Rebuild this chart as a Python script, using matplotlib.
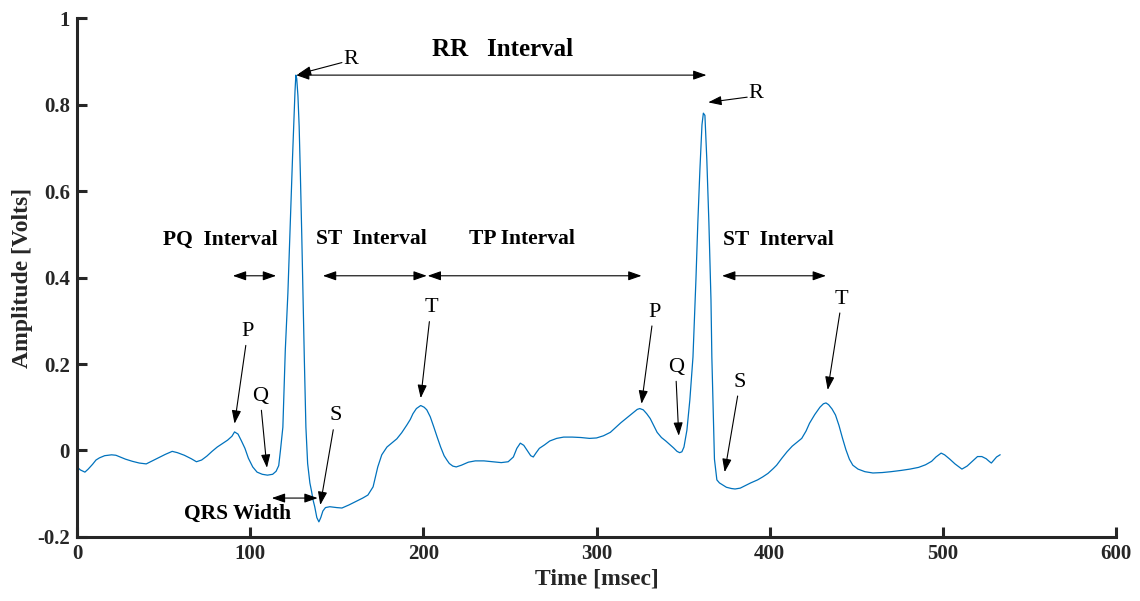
import matplotlib
matplotlib.use("Agg")
import matplotlib.pyplot as plt

plt.rcParams['font.family'] = ['Liberation Serif', 'DejaVu Serif']

# ECG trace (time in msec, amplitude in volts)
time_ms = [0, 2, 4.6, 6.5, 9, 11, 13, 16, 20, 22.5, 25, 28, 32, 36, 40, 43, 47,
           51, 55, 58, 62, 66, 69, 72, 75, 78, 81, 84, 87, 89.5, 91, 93, 95, 97,
           99, 101.5, 104, 107, 110, 113, 115, 116.5,
           117.5, 118.9, 119.6, 120.3, 121.1, 121.8, 122.7, 123.6, 124.5, 125.3,
           125.9, 126.4, 126.9, 127.6, 128.3, 129.0, 129.8, 130.5, 131.3, 132.2,
           133.2, 134.5, 135.5, 136.3, 137.3, 138.5, 139.7, 140.8, 142.0, 143.5,
           146, 150, 153, 157, 161, 165, 168, 171, 173.7, 176, 179, 182, 184.7,
           187.5, 190.5, 192.5, 194, 196, 198.5, 200.5, 202, 204, 206, 208, 210,
           212, 213.6, 215, 217, 219, 222, 226, 230, 235, 240, 245, 249, 252, 254,
           256, 258, 260, 262, 263.5, 265, 267, 270, 273, 277, 281, 286, 291, 296,
           300, 304, 308, 311, 314, 318, 321, 323.5, 325, 327, 329, 331, 333, 335,
           337.5, 340, 342, 344.5, 346.5, 348, 349.3,
           350.5, 352.2, 353.9, 355.7, 357.4, 358.5, 359.7, 360.9, 361.7, 362.6,
           363.7, 364.9, 366.1, 366.6, 367.5, 368.1, 369.5, 371, 373, 375, 378,
           380, 383, 386, 389, 393, 396, 399, 402, 404, 407, 410, 413, 416, 418.5,
           421, 423, 426, 429, 431, 432.5, 434, 436, 438, 440, 442, 444, 446, 448,
           451, 455, 459.6, 465, 470, 476, 481, 486, 490, 493.5, 496, 499, 501,
           504, 507, 511, 514, 517, 520, 522.5, 525, 527, 528, 529.5, 531, 533]
amp_v = [-0.038, -0.045, -0.050, -0.043, -0.032, -0.022, -0.017, -0.012, -0.010,
         -0.011, -0.015, -0.020, -0.025, -0.029, -0.031, -0.025, -0.017, -0.009,
         -0.002, -0.005, -0.011, -0.019, -0.026, -0.022, -0.013, -0.002, 0.008,
         0.016, 0.024, 0.033, 0.043, 0.038, 0.022, 0.005, -0.018, -0.038, -0.050,
         -0.055, -0.057, -0.055, -0.048, -0.035,
         0.000, 0.054, 0.140, 0.232, 0.300, 0.364, 0.470, 0.579, 0.680, 0.764,
         0.830, 0.868, 0.860, 0.820, 0.750, 0.640, 0.500, 0.364, 0.210, 0.054,
         -0.030, -0.075, -0.095, -0.114, -0.130, -0.155, -0.165, -0.155, -0.140,
         -0.132, -0.130, -0.132, -0.133, -0.126, -0.118, -0.110, -0.103, -0.084,
         -0.038, -0.010, 0.008, 0.018, 0.027, 0.041, 0.059, 0.072, 0.085, 0.097,
         0.104, 0.100, 0.094, 0.078, 0.055, 0.031, 0.008, -0.012, -0.022, -0.030,
         -0.036, -0.038, -0.034, -0.027, -0.024, -0.024, -0.026, -0.028, -0.026,
         -0.015, 0.005, 0.017, 0.012, 0.000, -0.012, -0.015, -0.006, 0.005, 0.013,
         0.022, 0.028, 0.031, 0.031, 0.030, 0.028, 0.029, 0.034, 0.042, 0.053,
         0.064, 0.077, 0.087, 0.095, 0.097, 0.094, 0.085, 0.074, 0.058, 0.042,
         0.030, 0.022, 0.015, 0.006, -0.002, -0.005, -0.003,
         0.008, 0.047, 0.117, 0.216, 0.394, 0.526, 0.649, 0.753, 0.780, 0.775,
         0.672, 0.526, 0.348, 0.216, 0.070, -0.020, -0.068, -0.075, -0.080,
         -0.085, -0.088, -0.089, -0.087, -0.081, -0.075, -0.068, -0.061, -0.053,
         -0.042, -0.034, -0.018, -0.003, 0.010, 0.020, 0.028, 0.045, 0.063, 0.083,
         0.100, 0.108, 0.110, 0.106, 0.096, 0.082, 0.058, 0.029, 0.002, -0.020,
         -0.034, -0.043, -0.049, -0.052, -0.051, -0.049, -0.046, -0.043, -0.039,
         -0.033, -0.025, -0.015, -0.006, -0.010, -0.020, -0.031, -0.043, -0.036,
         -0.025, -0.014, -0.014, -0.019, -0.026, -0.029, -0.022, -0.015, -0.010]

x_ticks = [0, 100, 200, 300, 400, 500, 600]
y_ticks = [-0.2, 0, 0.2, 0.4, 0.6, 0.8, 1]
y_tick_labels = ['-0.2', '0', '0.2', '0.4', '0.6', '0.8', '1']

# labels: (text, text_xy, arrow_start, arrow_tip)
point_labels = [
    ('R', (158.0, 0.905), (153.0, 0.897), (127.5, 0.870)),
    ('R', (392.0, 0.825), (387.0, 0.817), (364.5, 0.805)),
    ('P', (98.5, 0.275), (97.5, 0.243), (91.0, 0.062)),
    ('Q', (106.0, 0.125), (106.5, 0.093), (109.7, -0.040)),
    ('S', (149.5, 0.080), (148.0, 0.048), (140.5, -0.126)),
    ('T', (204.5, 0.330), (203.5, 0.298), (198.5, 0.121)),
    ('P', (333.5, 0.320), (332.0, 0.288), (326.0, 0.108)),
    ('Q', (345.8, 0.192), (346.0, 0.160), (347.5, 0.034)),
    ('S', (382.8, 0.158), (381.5, 0.126), (374.0, -0.050)),
    ('T', (441.5, 0.350), (440.5, 0.318), (433.5, 0.140)),
]
interval_labels = [
    ('RR   Interval', 18, (246.0, 0.928), (126.5, 363.5, 0.868)),
    ('PQ  Interval', 15.5, (82.5, 0.487), (90.0, 115.0, 0.404)),
    ('ST  Interval', 15.5, (170.0, 0.490), (142.0, 202.0, 0.404)),
    ('TP Interval', 15.5, (257.0, 0.490), (202.5, 326.0, 0.404)),
    ('ST  Interval', 15.5, (405.0, 0.487), (372.5, 432.5, 0.404)),
    ('QRS Width', 15.5, (93.0, -0.147), (112.5, 139.0, -0.110)),
]

fig = plt.figure(figsize=(11.40, 6.01), dpi=100)
ax = fig.add_axes([0.0675, 0.1065, 0.9115, 0.8635])

ax.plot(time_ms, amp_v, color='#0072BD', lw=0.9)

ax.set_xlim(0, 600)
ax.set_ylim(-0.2, 1)
ax.set_xticks(x_ticks)
ax.set_yticks(y_ticks)
ax.set_yticklabels(y_tick_labels)
for s in ['top', 'right']:
    ax.spines[s].set_visible(False)
for s in ['left', 'bottom']:
    ax.spines[s].set_linewidth(2.2)
    ax.spines[s].set_color('#262626')
ax.tick_params(direction='in', length=7, width=2.2, color='#262626',
               labelsize=15, pad=5)
for lab in ax.get_xticklabels() + ax.get_yticklabels():
    lab.set_fontweight('bold')
    lab.set_color('#262626')
ax.set_xlabel('Time [msec]', fontsize=17, fontweight='bold', labelpad=3, color='#262626')
ax.set_ylabel('Amplitude [Volts]', fontsize=17, fontweight='bold', labelpad=3, color='#262626')

arrow_one = dict(arrowstyle='-|>,head_length=0.8,head_width=0.28',
                 color='black', lw=0.8, shrinkA=0, shrinkB=0)
arrow_two = dict(arrowstyle='<|-|>,head_length=0.8,head_width=0.28',
                 color='black', lw=0.8, shrinkA=0, shrinkB=0)

for txt, (tx, ty), (sx, sy), (ex, ey) in point_labels:
    ax.text(tx, ty, txt, fontsize=16, ha='center', va='center')
    ax.annotate('', xy=(ex, ey), xytext=(sx, sy), arrowprops=arrow_one)

for txt, fs, (tx, ty), (x0, x1, yy) in interval_labels:
    ax.text(tx, ty, txt, fontsize=fs, fontweight='bold', ha='center', va='center')
    ax.annotate('', xy=(x1, yy), xytext=(x0, yy), arrowprops=arrow_two)

fig.savefig('out.png', dpi=100)
